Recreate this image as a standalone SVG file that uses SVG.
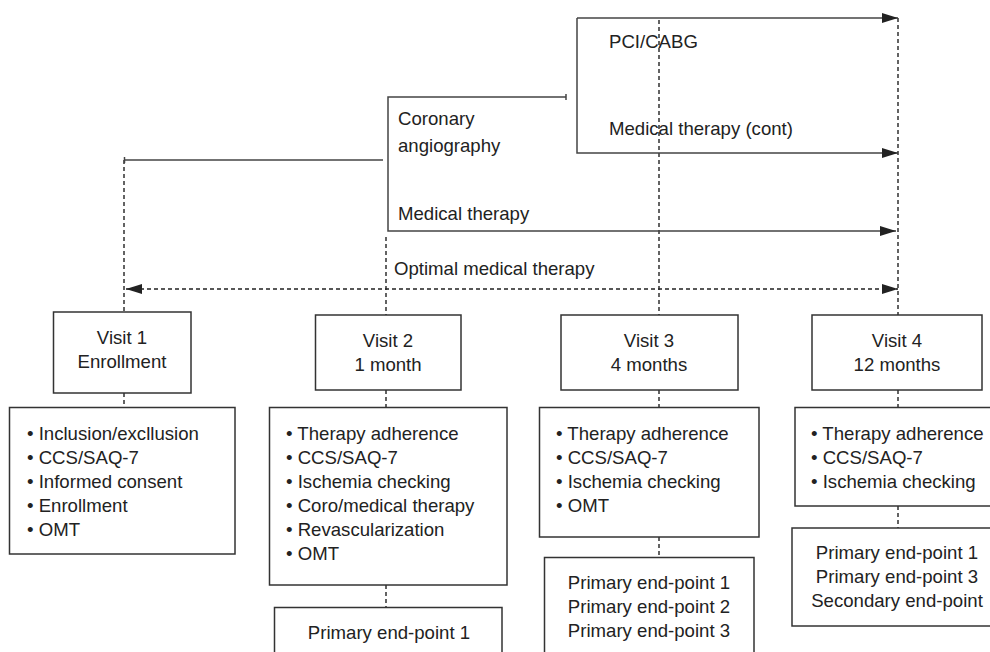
<svg xmlns="http://www.w3.org/2000/svg" width="990" height="652" viewBox="0 0 990 652">
<style>
  text { font-family: "Liberation Sans", Arial, sans-serif; font-size: 18.6px; fill: #222; }
  .c { text-anchor: middle; }
  .box { fill: #fff; stroke: #333; stroke-width: 1.5; }
  .solid { fill: none; stroke: #444; stroke-width: 1.5; }
  .dash { fill: none; stroke: #222; stroke-width: 1.4; stroke-dasharray: 4 3; }
</style>
<defs>
  <marker id="ah" viewBox="0 0 16 10" refX="16" refY="5" markerWidth="16" markerHeight="10" markerUnits="userSpaceOnUse" orient="auto-start-reverse">
    <path d="M0,0 L16,5 L0,10 Z" fill="#222"/>
  </marker>
</defs>
<rect width="990" height="652" fill="#fff"/>

<g id="connectors">
  <!-- vertical dashed timeline lines -->
  <line class="dash" x1="124" y1="160" x2="124" y2="312"/>
  <line class="dash" x1="386" y1="237" x2="386" y2="315"/>
  <line class="dash" x1="659" y1="20" x2="659" y2="315"/>
  <line class="dash" x1="898" y1="18" x2="898" y2="315"/>
  <!-- box to box dashed -->
  <line class="dash" x1="124" y1="393" x2="124" y2="407"/>
  <line class="dash" x1="386" y1="390" x2="386" y2="407"/>
  <line class="dash" x1="386" y1="585" x2="386" y2="607"/>
  <line class="dash" x1="659" y1="390" x2="659" y2="407"/>
  <line class="dash" x1="659" y1="537" x2="659" y2="557"/>
  <line class="dash" x1="898" y1="390" x2="898" y2="407"/>
  <line class="dash" x1="898" y1="506" x2="898" y2="528"/>
  <!-- enrollment line -->
  <line class="solid" x1="124" y1="160" x2="383" y2="160"/>
  <line class="solid" x1="124.5" y1="157" x2="124.5" y2="163"/>
  <!-- coronary angiography bracket -->
  <polyline class="solid" points="566,97 388,97 388,231 896,231" marker-end="url(#ah)"/>
  <line class="solid" x1="566" y1="94" x2="566" y2="100"/>
  <!-- PCI/CABG bracket -->
  <line class="solid" x1="577" y1="18" x2="898" y2="18" marker-end="url(#ah)"/>
  <polyline class="solid" points="577,18 577,153 898,153" marker-end="url(#ah)"/>
  <!-- optimal medical therapy double arrow -->
  <line class="dash" x1="126" y1="289" x2="898" y2="289" marker-start="url(#ah)" marker-end="url(#ah)"/>
</g>

<g id="labels">
  <text x="609" y="48">PCI/CABG</text>
  <text x="609" y="135">Medical therapy (cont)</text>
  <text x="398" y="125">Coronary</text>
  <text x="398" y="152">angiography</text>
  <text x="398" y="220">Medical therapy</text>
  <text x="394" y="275">Optimal medical therapy</text>
</g>

<g id="visit1">
  <rect class="box" x="53.5" y="312" width="137.5" height="81"/>
  <text class="c" x="122" y="344">Visit 1</text>
  <text class="c" x="122" y="368">Enrollment</text>
</g>
<g id="visit1-list">
  <rect class="box" x="9.5" y="407.5" width="225.5" height="146.5"/>
  <text x="27" y="440">• Inclusion/excllusion</text>
  <text x="27" y="464">• CCS/SAQ-7</text>
  <text x="27" y="488">• Informed consent</text>
  <text x="27" y="512">• Enrollment</text>
  <text x="27" y="536">• OMT</text>
</g>

<g id="visit2">
  <rect class="box" x="315.5" y="315" width="145.5" height="75"/>
  <text class="c" x="388" y="347">Visit 2</text>
  <text class="c" x="388" y="371">1 month</text>
</g>
<g id="visit2-list">
  <rect class="box" x="269.5" y="407.5" width="237.5" height="177.5"/>
  <text x="286" y="440">• Therapy adherence</text>
  <text x="286" y="464">• CCS/SAQ-7</text>
  <text x="286" y="488">• Ischemia checking</text>
  <text x="286" y="512">• Coro/medical therapy</text>
  <text x="286" y="536">• Revascularization</text>
  <text x="286" y="560">• OMT</text>
</g>
<g id="visit2-endpoints">
  <rect class="box" x="274.5" y="607.5" width="227.5" height="60"/>
  <text class="c" x="389" y="639">Primary end-point 1</text>
</g>

<g id="visit3">
  <rect class="box" x="561" y="315" width="177" height="75"/>
  <text class="c" x="649" y="347">Visit 3</text>
  <text class="c" x="649" y="371">4 months</text>
</g>
<g id="visit3-list">
  <rect class="box" x="539.5" y="407.5" width="219.5" height="129.5"/>
  <text x="556" y="440">• Therapy adherence</text>
  <text x="556" y="464">• CCS/SAQ-7</text>
  <text x="556" y="488">• Ischemia checking</text>
  <text x="556" y="512">• OMT</text>
</g>
<g id="visit3-endpoints">
  <rect class="box" x="544.5" y="557.5" width="209.5" height="110"/>
  <text class="c" x="649" y="589">Primary end-point 1</text>
  <text class="c" x="649" y="613">Primary end-point 2</text>
  <text class="c" x="649" y="637">Primary end-point 3</text>
</g>

<g id="visit4">
  <rect class="box" x="812" y="315" width="170" height="75"/>
  <text class="c" x="897" y="347">Visit 4</text>
  <text class="c" x="897" y="371">12 months</text>
</g>
<g id="visit4-list">
  <rect class="box" x="795" y="407.5" width="210" height="98.5"/>
  <text x="811" y="440">• Therapy adherence</text>
  <text x="811" y="464">• CCS/SAQ-7</text>
  <text x="811" y="488">• Ischemia checking</text>
</g>
<g id="visit4-endpoints">
  <rect class="box" x="792" y="528" width="213" height="98"/>
  <text class="c" x="897" y="559">Primary end-point 1</text>
  <text class="c" x="897" y="583">Primary end-point 3</text>
  <text class="c" x="897" y="607">Secondary end-point</text>
</g>
</svg>
